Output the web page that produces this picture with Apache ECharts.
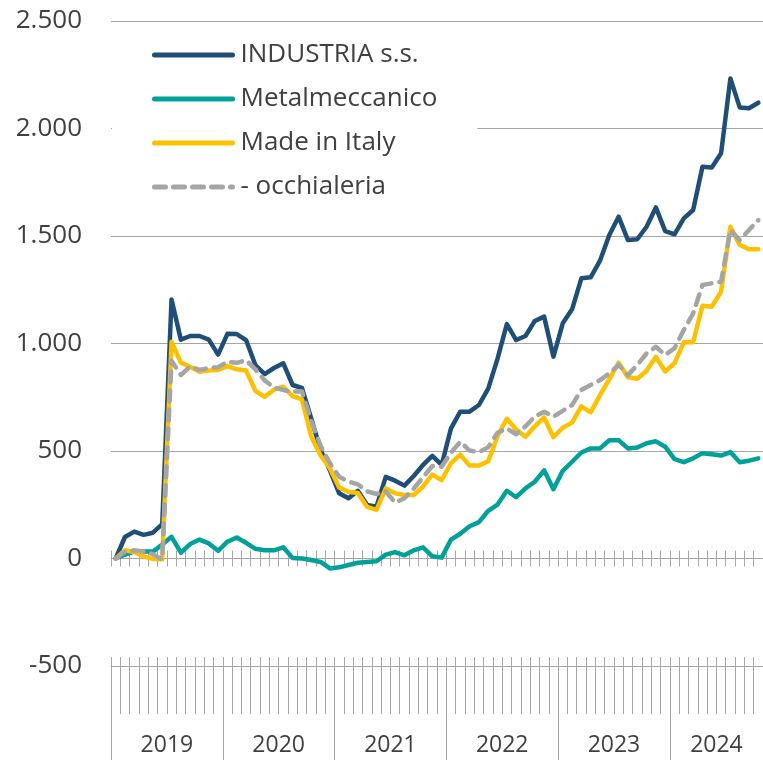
<!DOCTYPE html>
<html>
<head>
<meta charset="utf-8">
<script src="https://cdn.jsdelivr.net/npm/echarts@6/dist/echarts.min.js"></script>
<style>
  html, body { margin: 0; padding: 0; background: #fff; }
  #chart { width: 763px; height: 760px; }
</style>
</head>
<body>
<div id="chart"></div>
<script>
// monthly series, Jan 2019 .. Oct 2024
const years = ['2019', '2020', '2021', '2022', '2023', '2024'];

const industria = [0, 100, 125, 110, 120, 160, 1205, 1018, 1035, 1035,
    1018, 948, 1045, 1044, 1016, 900, 858, 886, 908, 807,
    793, 650, 505, 410, 303, 280, 315, 249, 241, 380,
    362, 339, 384, 435, 477, 435, 605, 683, 683, 714,
    790, 930, 1090, 1016, 1035, 1105, 1125, 939, 1094, 1159,
    1303, 1308, 1385, 1505, 1590, 1481, 1485, 1543, 1633, 1523,
    1508, 1582, 1621, 1822, 1819, 1885, 2233, 2098, 2094, 2120];

const metalmeccanico = [0, 18, 32, 32, 32, 65, 101, 27, 67, 88,
    70, 36, 78, 98, 73, 45, 38, 38, 52, 2,
    0, -7, -16, -46, -41, -30, -20, -16, -13, 18,
    30, 15, 38, 52, 10, 4, 88, 115, 150, 169,
    222, 251, 315, 285, 326, 357, 410, 322, 408, 450,
    493, 512, 512, 550, 550, 512, 516, 536, 545, 520,
    462, 448, 466, 490, 485, 479, 495, 448, 455, 466];

const madeInItaly = [0, 38, 30, 10, -2, -4, 1008, 911, 892, 868,
    874, 877, 895, 880, 874, 780, 752, 785, 799, 755,
    740, 567, 479, 420, 330, 310, 305, 240, 226, 326,
    303, 295, 295, 335, 390, 365, 443, 483, 432, 432,
    452, 570, 650, 600, 566, 615, 656, 564, 608, 632,
    708, 680, 760, 834, 911, 843, 836, 873, 938, 870,
    908, 1006, 1006, 1176, 1171, 1241, 1543, 1458, 1438, 1438];

const occhialeria = [0, 30, 38, 33, 20, -5, 920, 853, 893, 877,
    886, 890, 915, 910, 922, 880, 828, 795, 784, 776,
    778, 640, 524, 443, 380, 358, 345, 312, 300, 312,
    260, 280, 325, 378, 430, 427, 492, 543, 502, 494,
    518, 585, 605, 578, 615, 660, 683, 660, 687, 714,
    784, 807, 830, 861, 900, 853, 900, 954, 985, 947,
    978, 1063, 1140, 1272, 1280, 1287, 1528, 1481, 1528, 1574];

// category labels (one per month)
const months = [];
years.forEach(function (y) {
    for (let m = 1; m <= 12; m++) months.push(y + '-' + m);
});
months.length = industria.length;

// year boundaries and year label positions, in months
const yearStarts = [];
const yearMids = [];
years.forEach(function (y, i) {
    const start = i * 12;
    const count = Math.min(12, months.length - start);
    yearStarts.push(start);
    yearMids.push(start + count / 2);
});

const textColor = '#404040';
const gridColor = '#a6a6a6';
const font = 'Open Sans';

function fmtThousands(v) {
    return String(v).replace(/\B(?=(\d{3})+(?!\d))/g, '.');
}

// helper for the month tick axes
function monthAxis(onZero, lineShow, inside, len) {
    return {
        type: 'category',
        data: months,
        position: 'bottom',
        boundaryGap: true,
        axisLine: onZero
            ? { show: lineShow, onZero: true, onZeroAxisIndex: 0, lineStyle: { color: gridColor, width: 1 } }
            : { show: lineShow, onZero: false, lineStyle: { color: gridColor, width: 1 } },
        axisTick: { show: true, inside: inside, length: len, interval: 0, lineStyle: { color: gridColor, width: 1 } },
        axisLabel: { show: false },
        splitLine: { show: false }
    };
}

var chartDom = document.getElementById('chart');
var myChart = echarts.init(chartDom, null, { renderer: 'canvas' });
var option;

option = {
    animation: false,
    backgroundColor: '#fff',
    grid: { left: 111, right: -6, top: 21, bottom: 94 },
    legend: {
        orient: 'vertical',
        left: 112,
        top: 32,
        padding: [10, 40, 10, 40],
        backgroundColor: '#fff',
        itemWidth: 78,
        itemHeight: 14,
        itemGap: 18,
        itemStyle: { opacity: 0 },
        lineStyle: { width: 5, cap: 'round' },
        textStyle: { fontFamily: font, fontSize: 26, color: textColor, lineHeight: 26, padding: [0, 0, 0, 3] },
        data: ['INDUSTRIA s.s.', 'Metalmeccanico', 'Made in Italy', '- occhialeria']
    },
    xAxis: [
        monthAxis(false, true, true, 9),    // -500 line, short inner ticks
        monthAxis(false, false, false, 48), // -500 line, long outer ticks
        monthAxis(true, true, true, 8),     // zero line, ticks up
        monthAxis(true, false, false, 8),   // zero line, ticks down
        {   // years
            type: 'value',
            min: 0,
            max: months.length,
            position: 'bottom',
            axisLine: { onZero: false, show: false },
            axisTick: { show: true, customValues: yearStarts, length: 94, lineStyle: { color: gridColor } },
            axisLabel: {
                show: true,
                customValues: yearMids,
                margin: 68,
                fontFamily: font,
                fontSize: 23,
                color: textColor,
                formatter: function (v) {
                    return years[yearMids.indexOf(v)];
                }
            },
            splitLine: { show: false }
        }
    ],
    yAxis: {
        type: 'value',
        min: -500,
        max: 2500,
        interval: 500,
        axisLine: { show: false, onZero: false },
        axisTick: { show: false },
        splitLine: { show: true, showMinLine: true, showMaxLine: true, lineStyle: { color: gridColor, width: 1 } },
        axisLabel: {
            fontFamily: font,
            fontSize: 26,
            color: textColor,
            margin: 29,
            formatter: fmtThousands
        }
    },
    series: [
        {
            name: 'INDUSTRIA s.s.',
            type: 'line',
            symbol: 'none',
            data: industria,
            itemStyle: { color: '#1f4e79' },
            lineStyle: { color: '#1f4e79', width: 4.5, cap: 'round', join: 'round' }
        },
        {
            name: 'Metalmeccanico',
            type: 'line',
            symbol: 'none',
            data: metalmeccanico,
            itemStyle: { color: '#00a19a' },
            lineStyle: { color: '#00a19a', width: 4.5, cap: 'round', join: 'round' }
        },
        {
            name: 'Made in Italy',
            type: 'line',
            symbol: 'none',
            data: madeInItaly,
            itemStyle: { color: '#ffc000' },
            lineStyle: { color: '#ffc000', width: 4.5, cap: 'round', join: 'round' }
        },
        {
            name: '- occhialeria',
            type: 'line',
            symbol: 'none',
            data: occhialeria,
            itemStyle: { color: '#a5a5a5' },
            lineStyle: { color: '#a5a5a5', width: 4.5, type: [11, 8], cap: 'round', join: 'round' }
        }
    ]
};

option && myChart.setOption(option);
window.addEventListener('resize', function () {
    myChart.resize();
});
</script>
</body>
</html>
